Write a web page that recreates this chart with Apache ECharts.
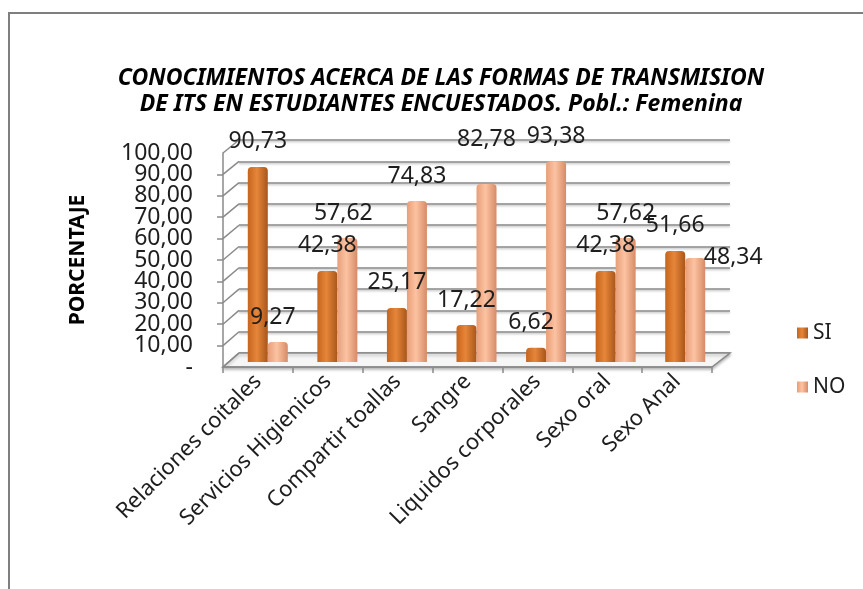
<!DOCTYPE html>
<html><head><meta charset="utf-8">
<script src="https://cdn.jsdelivr.net/npm/echarts@6/dist/echarts.min.js"></script>
<style>html,body{margin:0;padding:0;background:#fff}#c{width:863px;height:589px}</style>
</head><body><div id="c"></div>
<script>
const categories = ['Relaciones coitales','Servicios Higienicos','Compartir toallas','Sangre','Liquidos corporales','Sexo oral','Sexo Anal'];
const siValues = [90.73, 42.38, 25.17, 17.22, 6.62, 42.38, 51.66];
const noValues = [9.27, 57.62, 74.83, 82.78, 93.38, 57.62, 48.34];
const seriesNames = ['SI', 'NO'];
const yTickLabels = ['-','10,00','20,00','30,00','40,00','50,00','60,00','70,00','80,00','90,00','100,00'];
const titleLines = ['CONOCIMIENTOS ACERCA DE LAS FORMAS DE TRANSMISION','DE ITS EN ESTUDIANTES ENCUESTADOS. Pobl.: Femenina'];
const yAxisTitle = 'PORCENTAJE';

const FONT = 'Noto Sans';
const GRAY = '#8a8a8a';
const WALL = {left: 239, top: 140, width: 491, height: 213};
const FRONT = {left: 223, top: 153, width: 489, height: 214};
const BARS = {left: 233, top: 147, width: 487, height: 215};

const fmt = v => v.toFixed(2).replace('.', ',');
const tickLabel = v => yTickLabels[Math.round(v / 10)];
function grad(a, b, c) {
  return new echarts.graphic.LinearGradient(0, 0, 1, 0, [
    {offset: 0, color: a}, {offset: 0.45, color: b}, {offset: 1, color: c}]);
}
const siFill = grad('#c5651e', '#e6863a', '#a95619');
const noFill = grad('#e89e78', '#fcc3a2', '#d68b66');

const siOffsets = {4: [-5, 0]};
const noOffsets = {0: [-5, 0], 1: [-4, 0], 3: [0, -20], 6: [38, 24]};
function items(vals, offs) {
  return vals.map((v, i) => offs[i] ? {value: v, label: {offset: offs[i]}} : v);
}

const labelStyle = {show: true, position: 'top', distance: 13, formatter: p => fmt(p.value),
  fontFamily: FONT, fontSize: 23, lineHeight: 24, color: '#1e1e1e'};
const yLabelStyle = {margin: 30, formatter: tickLabel, fontFamily: FONT, fontSize: 23, color: '#1e1e1e'};

const chart = echarts.init(document.getElementById('c'), null, {renderer: 'canvas'});
const option = {
  backgroundColor: '#fff',
  animation: false,
  legend: {
    data: seriesNames, orient: 'vertical', left: 792, top: 316, itemWidth: 11, itemHeight: 11, itemGap: 30,
    icon: 'rect', textStyle: {fontFamily: FONT, fontSize: 21, lineHeight: 24, color: '#1e1e1e'}
  },
  grid: [
    Object.assign({containLabel: false}, WALL),
    Object.assign({containLabel: false}, FRONT),
    Object.assign({containLabel: false}, BARS)
  ],
  xAxis: [
    {gridIndex: 0, type: 'value', min: 0, max: 1, show: false},
    {gridIndex: 1, type: 'category', data: categories, boundaryGap: true,
      axisLine: {show: true, onZero: false, lineStyle: {color: GRAY, width: 1.5}},
      axisTick: {show: true, length: 6, lineStyle: {color: GRAY, width: 1.5}},
      axisLabel: {interval: 0, rotate: 45, margin: 11, fontFamily: FONT, fontSize: 22, color: '#1e1e1e'},
      splitLine: {show: false}},
    {gridIndex: 2, type: 'category', data: categories, show: false}
  ],
  yAxis: [
    {gridIndex: 0, type: 'value', min: 0, max: 100, interval: 10,
      axisLine: {show: false}, axisTick: {show: false}, axisLabel: {show: false},
      splitLine: {show: true, lineStyle: {color: GRAY, width: 1.5, shadowColor: 'rgba(0,0,0,0.25)', shadowBlur: 2, shadowOffsetY: 1.5}}},
    {gridIndex: 1, type: 'value', min: 0, max: 100, interval: 10,
      name: yAxisTitle, nameLocation: 'middle', nameGap: 134, nameRotate: 90,
      nameTextStyle: {fontFamily: FONT, fontSize: 21, fontWeight: 'bold', color: '#000'},
      axisLine: {show: true, lineStyle: {color: GRAY, width: 1.5}},
      axisTick: {show: true, length: 6, lineStyle: {color: GRAY, width: 1.5}},
      axisLabel: Object.assign({showMinLabel: false, showMaxLabel: false}, yLabelStyle),
      splitLine: {show: false}},
    {gridIndex: 2, type: 'value', min: 0, max: 100, show: false},
    {gridIndex: 1, type: 'value', min: 0, max: 100, interval: 100, position: 'left',
      axisLine: {show: false}, axisTick: {show: false}, splitLine: {show: false},
      axisLabel: Object.assign({showMinLabel: true, showMaxLabel: true}, yLabelStyle)}
  ],
  series: [
    {name: seriesNames[0], type: 'bar', xAxisIndex: 2, yAxisIndex: 2, barWidth: 20, barGap: '0%',
      data: items(siValues, siOffsets), z: 3,
      itemStyle: {color: siFill, borderRadius: [4, 4, 0, 0]}, label: labelStyle},
    {name: seriesNames[1], type: 'bar', xAxisIndex: 2, yAxisIndex: 2, barWidth: 20, barGap: '0%',
      data: items(noValues, noOffsets), z: 3,
      itemStyle: {color: noFill, borderRadius: [4, 4, 0, 0]}, label: labelStyle}
  ]
};
chart.setOption(option);

// title and 3D frame decorations derived from the axes
const yF = v => chart.convertToPixel({yAxisIndex: 1}, v);
const yW = v => chart.convertToPixel({yAxisIndex: 0}, v);
const gfx = [];
const fl = FRONT.left, fr = FRONT.left + FRONT.width, wl = WALL.left, wr = WALL.left + WALL.width;
gfx.push({type: 'rect', z: 0, silent: true, shape: {x: 9, y: 13, width: 900, height: 700},
  style: {fill: null, stroke: '#7f7f7f', lineWidth: 2}});
gfx.push({type: 'text', z: 5, x: 441, y: 65, style: {text: titleLines.join('\n'), align: 'center', verticalAlign: 'top',
  fontFamily: FONT, fontSize: 23, fontWeight: 'bold', fontStyle: 'italic', lineHeight: 26, fill: '#000'}});
gfx.push({type: 'polygon', z: 0, shape: {points: [[fl, yF(0)], [fr, yF(0)], [wr, yW(0)], [wl, yW(0)]]},
  style: {fill: '#f6f6f6', stroke: GRAY, lineWidth: 1.5, shadowColor: 'rgba(0,0,0,0.25)', shadowBlur: 3, shadowOffsetY: 2}});
for (let v = 0; v <= 100; v += 10) {
  gfx.push({type: 'line', z: 0, shape: {x1: fl, y1: yF(v), x2: wl, y2: yW(v)},
    style: {stroke: GRAY, lineWidth: 1.5}});
}
chart.setOption({graphic: gfx});
</script></body></html>
